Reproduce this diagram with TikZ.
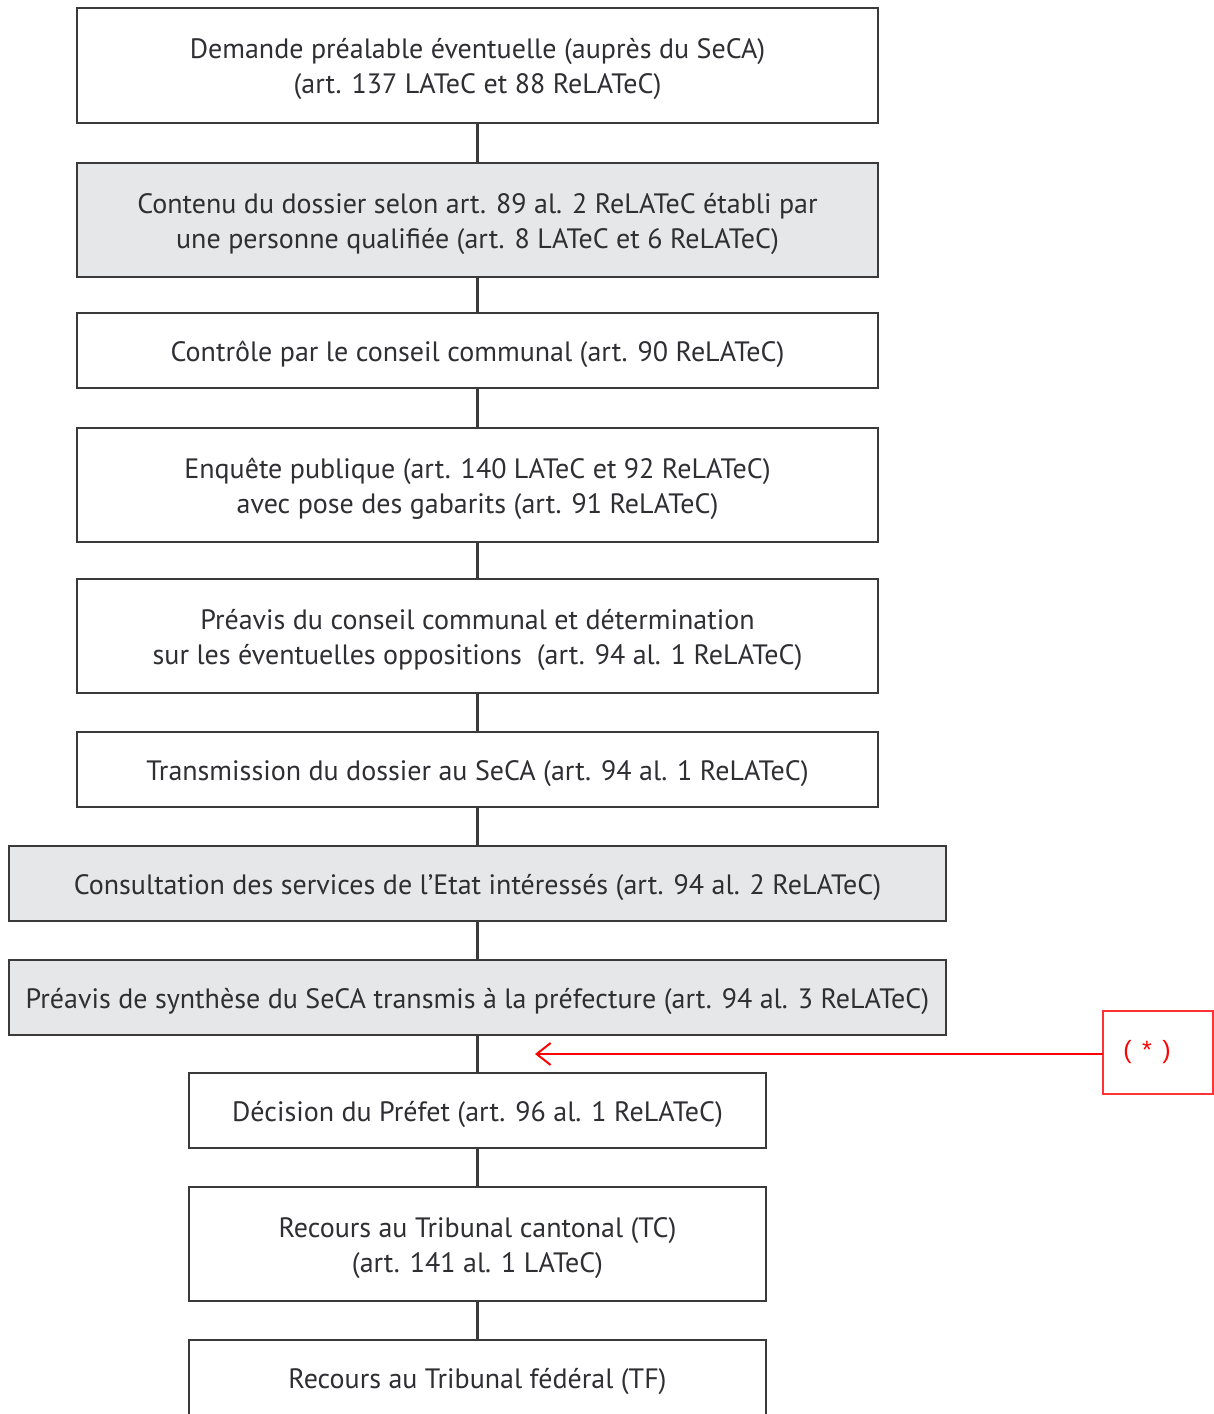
\documentclass[tikz,border=0pt]{standalone}
\usepackage{fontspec}
\setmainfont{PT Sans}
\newfontfamily\starfont{Liberation Sans}
\usetikzlibrary{arrows.meta}
\definecolor{boxgray}{HTML}{E6E7E8}
\definecolor{txt}{HTML}{2E2E33}
\definecolor{edge}{HTML}{3A3A3A}
\newcommand{\lift}{\rule{0pt}{27.5pt}}
\tikzset{
  stepbox/.style={draw=edge, line width=2.6pt, fill=white, inner sep=0pt, outer sep=0pt, align=center,
    text=txt, font=\fontsize{28}{35}\selectfont},
  graybox/.style={stepbox, fill=boxgray},
  link/.style={draw=edge, line width=2.4pt},
}
\begin{document}
\begin{tikzpicture}[x=1pt,y=-1pt]
\useasboundingbox (0,0) rectangle (1214,1414);
\clip (0,0) rectangle (1214,1414);
\fill[white] (0,0) rectangle (1214,1414);
\node[stepbox, minimum width=801pt, minimum height=115pt] (b1) at (477.5,65.5)
  {\lift Demande préalable éventuelle (auprès du SeCA)\\(art. 137 LATeC et 88 ReLATeC)};
\node[graybox, minimum width=801pt, minimum height=114pt] (b2) at (477.5,220)
  {\lift Contenu du dossier selon art. 89 al. 2 ReLATeC établi par\\une personne qualifiée (art. 8 LATeC et 6 ReLATeC)};
\node[stepbox, minimum width=801pt, minimum height=75pt] (b3) at (477.5,350.5)
  {\lift Contrôle par le conseil communal (art. 90 ReLATeC)};
\node[stepbox, minimum width=801pt, minimum height=114pt] (b4) at (477.5,485)
  {\lift Enquête publique (art. 140 LATeC et 92 ReLATeC)\\avec pose des gabarits (art. 91 ReLATeC)};
\node[stepbox, minimum width=801pt, minimum height=114pt] (b5) at (477.5,636)
  {\lift Préavis du conseil communal et détermination\\sur les éventuelles oppositions~~(art. 94 al. 1 ReLATeC)};
\node[stepbox, minimum width=801pt, minimum height=75pt] (b6) at (477.5,769.5)
  {\lift Transmission du dossier au SeCA (art. 94 al. 1 ReLATeC)};
\node[graybox, minimum width=937pt, minimum height=75pt] (b7) at (477.5,883.5)
  {\lift Consultation des services de l'Etat intéressés (art. 94 al. 2 ReLATeC)};
\node[graybox, minimum width=937pt, minimum height=75pt] (b8) at (477.5,997.5)
  {\lift Préavis de synthèse du SeCA transmis à la préfecture (art. 94 al. 3 ReLATeC)};
\node[stepbox, minimum width=577pt, minimum height=75pt] (b9) at (477.5,1110.5)
  {\lift Décision du Préfet (art. 96 al. 1 ReLATeC)};
\node[stepbox, minimum width=577pt, minimum height=114pt] (b10) at (477.5,1244)
  {\lift Recours au Tribunal cantonal (TC)\\(art. 141 al. 1 LATeC)};
\node[stepbox, minimum width=577pt, minimum height=76pt] (b11) at (477.5,1378)
  {\lift Recours au Tribunal fédéral (TF)};
\foreach \a/\b in {b1/b2,b2/b3,b3/b4,b4/b5,b5/b6,b6/b7,b7/b8,b8/b9,b9/b10,b10/b11}
  \draw[link] (\a.south) -- (\b.north);
\node[draw=red!80, line width=1.5pt, minimum width=110pt, minimum height=83pt, inner sep=0pt, outer sep=0pt,
  text=red, font=\starfont\fontsize{25}{28}\selectfont] (star) at (1158,1052.5)
  {(\kern0.42em*\kern0.42em)\kern22pt};
\coordinate (tip) at (535,1054);
\draw[red, line width=2pt, -{Straight Barb[length=14pt, width=22pt, line width=2pt]}] (star.west |- tip) -- (tip);
\end{tikzpicture}
\end{document}
